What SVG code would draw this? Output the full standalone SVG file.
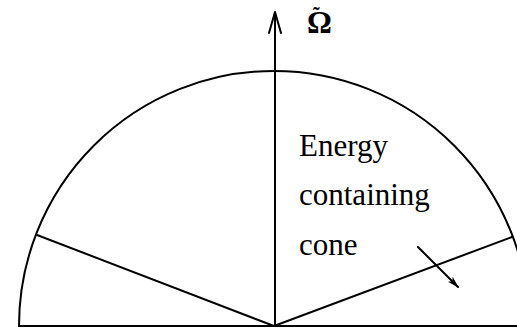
<svg xmlns="http://www.w3.org/2000/svg" width="517" height="328" viewBox="0 0 517 328">
<style>
.ln{fill:none;stroke:#000;stroke-width:2;stroke-linecap:round;stroke-linejoin:round}
.t{font-family:"Liberation Serif","Times New Roman",serif;font-size:31px;fill:#000}
.om{font-family:"Liberation Serif","Times New Roman",serif;font-weight:bold;fill:#000}
</style>
<defs>
<marker id="ah" viewBox="0 0 12 8" refX="11" refY="4" markerWidth="12" markerHeight="8" markerUnits="userSpaceOnUse" orient="auto">
<path d="M0,0.5 L12,4 L0,7.5 L3,4 Z" fill="#000"/>
</marker>
</defs>
<rect width="517" height="328" fill="#fff"/>
<g id="cone">
<path class="ln" d="M19,326 A255,255 0 0 1 529,326"/>
<line class="ln" x1="19" y1="326" x2="517" y2="326"/>
<line class="ln" x1="274" y1="326" x2="37" y2="235"/>
<line class="ln" x1="274" y1="326" x2="512" y2="237"/>
</g>
<g id="axis">
<line class="ln" x1="275" y1="326" x2="275" y2="13"/>
<polyline class="ln" points="269,33 275,12 281,33"/>
<text class="om"><tspan x="307" y="33" font-size="31">Ω</tspan><tspan x="313" y="22" font-size="20">˜</tspan></text>
</g>
<g id="label">
<text class="t" x="299" y="156">Energy</text>
<text class="t" x="299" y="205">containing</text>
<text class="t" x="299" y="255">cone</text>
</g>
<g id="connectors">
<line class="ln" x1="418" y1="247" x2="458" y2="287" marker-end="url(#ah)"/>
</g>
</svg>
